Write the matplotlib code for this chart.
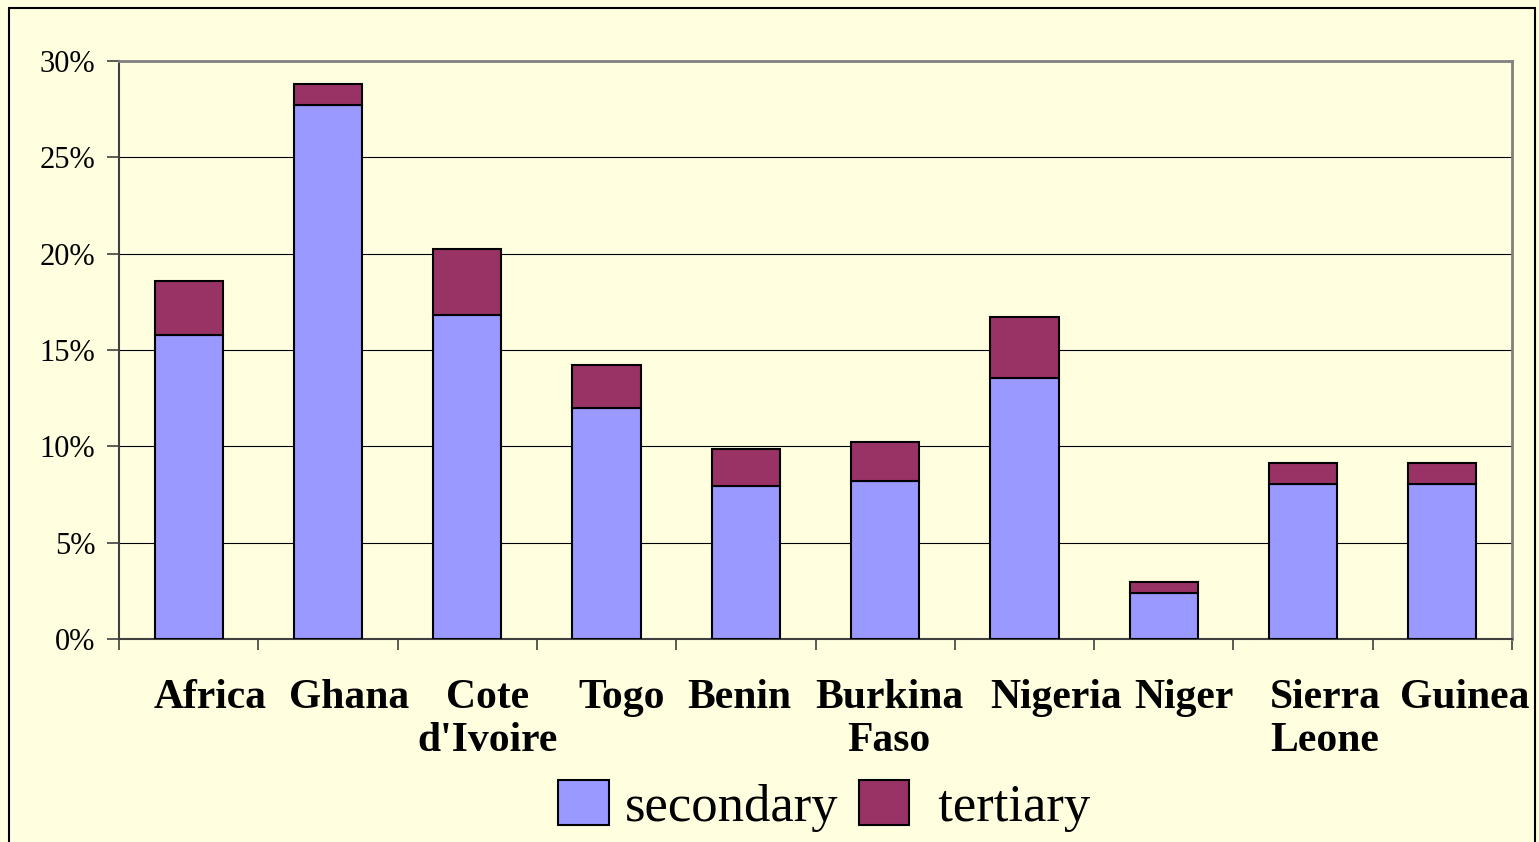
import numpy as np
import matplotlib.pyplot as plt
from matplotlib.patches import Patch, Rectangle
from matplotlib.ticker import PercentFormatter, FixedLocator
from matplotlib.transforms import ScaledTranslation

# data (shares, in %)
countries = ['Africa', 'Ghana', 'Cote\nd\'Ivoire', 'Togo', 'Benin', 'Burkina\nFaso',
             'Nigeria', 'Niger', 'Sierra\nLeone', 'Guinea']
secondary = [15.8, 27.7, 16.8, 12.0, 7.95, 8.2, 13.55, 2.4, 8.05, 8.05]
tertiary = [2.8, 1.1, 3.45, 2.2, 1.9, 2.05, 3.15, 0.55, 1.1, 1.1]

bg = '#FFFFE0'
col_sec = '#9999FF'
col_ter = '#993366'
# horizontal nudges of the category labels (pixels), as laid out in the original
label_shift = [21, 21, 20, 15, -7, 4, 32, 20, 22, 22]

plt.rcParams['font.family'] = ['Liberation Serif', 'DejaVu Serif']

fig = plt.figure(figsize=(15.39, 8.42), dpi=100, facecolor=bg)
ax = fig.add_axes([119 / 1539, 1 - 639 / 842, (1512 - 119) / 1539, (639 - 61) / 842])
ax.set_facecolor(bg)

# outer chart frame
fig.patches.append(Rectangle((9 / 1539, -0.05), (1535 - 9) / 1539, 1.05 - 8 / 842,
                             transform=fig.transFigure, fill=False,
                             edgecolor='black', linewidth=1.5))

x = np.arange(len(countries))
sec = np.array(secondary) / 100
ter = np.array(tertiary) / 100
ax.bar(x, sec, width=0.49, color=col_sec, edgecolor='black', linewidth=1.5, zorder=3)
ax.bar(x, ter, width=0.49, bottom=sec, color=col_ter, edgecolor='black', linewidth=1.5, zorder=3)

ax.set_xlim(-0.5, len(countries) - 0.5)
ax.set_ylim(0, 0.30)
ax.set_yticks(np.arange(0, 0.31, 0.05))
ax.yaxis.set_major_formatter(PercentFormatter(1.0, decimals=0))
ax.grid(axis='y', color='black', linewidth=0.8, zorder=0)

# category labels at bar centres, ticks at boundaries
ax.set_xticks(x)
ax.set_xticklabels(countries, fontsize=30, fontweight='bold', linespacing=1.15)
ax.xaxis.set_minor_locator(FixedLocator(np.arange(-0.5, len(countries), 1.0)))
ax.tick_params(axis='x', which='major', length=0, pad=29)
ax.tick_params(axis='x', which='minor', length=8, width=1.2, color='#404040')
ax.tick_params(axis='y', length=9, width=1.2, color='#404040', labelsize=22, pad=8)
for lab, dx in zip(ax.get_xticklabels(), label_shift):
    lab.set_verticalalignment('top')
    lab.set_transform(lab.get_transform() + ScaledTranslation(dx / 100, 0, fig.dpi_scale_trans))

for side in ['left', 'bottom']:
    ax.spines[side].set_color('#404040')
    ax.spines[side].set_linewidth(1.5)
for side in ['top', 'right']:
    ax.spines[side].set_color('#808080')
    ax.spines[side].set_linewidth(2)

handles = [Patch(facecolor=col_sec, edgecolor='black', linewidth=1.5, label='secondary'),
           Patch(facecolor=col_ter, edgecolor='black', linewidth=1.5, label=' tertiary')]
fig.legend(handles=handles, loc='center', bbox_to_anchor=(0.5357, 0.043), ncol=2,
           frameon=False, fontsize=38, handlelength=0.95, handleheight=0.92,
           handletextpad=0.3, columnspacing=0.4, borderpad=0, borderaxespad=0)

plt.savefig('out.png', dpi=100, facecolor=bg)
